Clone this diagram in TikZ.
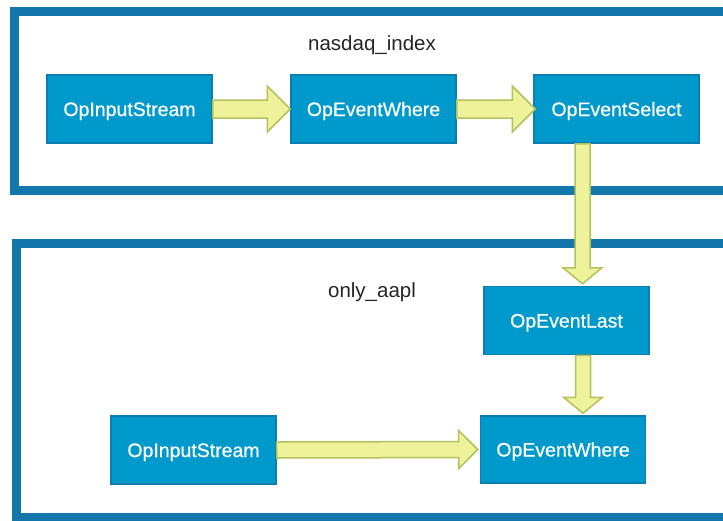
\documentclass[tikz,border=0pt]{standalone}
\usepackage{fontspec}
\setmainfont{Liberation Sans}
\newfontfamily\nodefont[FakeBold=0.6]{Liberation Sans}
\usetikzlibrary{calc}
\definecolor{framec}{HTML}{1477AC}
\definecolor{nodefill}{HTML}{0099CC}
\definecolor{nodeline}{HTML}{0B7DB0}
\definecolor{arrfill}{HTML}{EDF29B}
\definecolor{arrline}{HTML}{B3C25A}
\tikzset{
  opbox/.style={draw=nodeline, line width=1.5pt, fill=nodefill, text=white,
    font=\nodefont\fontsize{19.5}{21}\selectfont, minimum width=165pt, minimum height=68pt,
    inner sep=0pt, text height=14pt, text depth=0pt},
  frame/.style={draw=framec, line width=9pt},
  lbl/.style={font=\fontsize{20.5}{23}\selectfont, text=black!85},
  fat/.style n args={3}{draw=arrline, fill=arrfill, line width=1.5pt, line join=miter,
    to path={
      ($(\tikztostart)!#1!90:(\tikztotarget)$)
      -- ($($(\tikztotarget)!#3!(\tikztostart)$)!#1!90:(\tikztotarget)$)
      -- ($($(\tikztotarget)!#3!(\tikztostart)$)!#2!90:(\tikztotarget)$)
      -- (\tikztotarget)
      -- ($($(\tikztotarget)!#3!(\tikztostart)$)!#2!-90:(\tikztotarget)$)
      -- ($($(\tikztotarget)!#3!(\tikztostart)$)!#1!-90:(\tikztotarget)$)
      -- ($(\tikztostart)!#1!-90:(\tikztotarget)$)
      -- cycle}}
}
\begin{document}
\begin{tikzpicture}[x=1pt,y=-1pt]
\useasboundingbox (0,0) rectangle (723,520);
\clip (0,0) rectangle (723,520);
\fill[white] (0,0) rectangle (723,520);
\draw[frame] (14.5,11.5) rectangle (745,190.5);
\draw[frame] (16,243) rectangle (745,517.5);
\node[lbl] (lnasdaq) at (372,45) {nasdaq\_index};
\node[lbl] (laapl) at (372,292) {only\_aapl};
\node[opbox] (in1) at (129.5,109) {OpInputStream};
\node[opbox] (wh1) at (373.5,109) {OpEventWhere};
\node[opbox] (sel) at (616.5,109) {OpEventSelect};
\node[opbox] (last) at (566.5,320.5) {OpEventLast};
\node[opbox, minimum height=67pt] (wh2) at (563,449.5) {OpEventWhere};
\node[opbox] (in2) at (193.5,450) {OpInputStream};
\coordinate (s3) at ([xshift=-34pt]sel.south);
\coordinate (t3) at ([xshift=16pt,yshift=2pt]last.north);
\coordinate (s4) at ([xshift=16.5pt]last.south);
\coordinate (t4) at ([xshift=20pt,yshift=2pt]wh2.north);
\draw[fat={9pt}{23pt}{23pt}] (in1.east) to (wh1.west);
\draw[fat={9pt}{23pt}{23pt}] (wh1.east) to ([xshift=2pt]sel.west);
\draw[fat={7.5pt}{19.5pt}{16pt}] (s3) to (t3);
\draw[fat={7.5pt}{19.5pt}{16pt}] (s4) to (t4);
\draw[fat={8pt}{19pt}{19pt}] (in2.east) to ([xshift=-2pt]wh2.west);
\end{tikzpicture}
\end{document}
